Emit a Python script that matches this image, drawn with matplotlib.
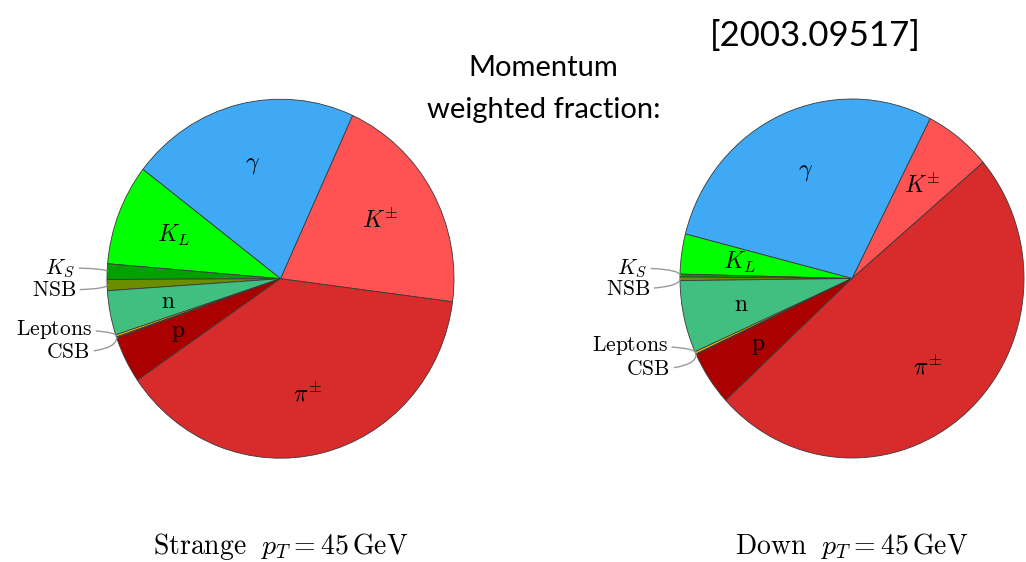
import numpy as np
import matplotlib
matplotlib.use("Agg")
import matplotlib.pyplot as plt

plt.rcParams["mathtext.fontset"] = "cm"

# Momentum-weighted fractions (%) of jet constituents, counter-clockwise order
species = ["K+-", "gamma", "K_L", "K_S", "NSB", "n", "Leptons", "CSB", "p", "pi+-"]
tex_labels = [r"$K^{\pm}$", r"$\gamma$", r"$K_L$", r"$K_S$", r"$\mathrm{NSB}$",
              r"$\mathrm{n}$", r"$\mathrm{Leptons}$", r"$\mathrm{CSB}$",
              r"$\mathrm{p}$", r"$\pi^{\pm}$"]
strange_frac = [20.25, 21.4, 9.1, 1.4, 1.0, 4.0, 0.2, 0.1, 4.2, 38.4]
down_frac = [6.3, 28.5, 3.6, 0.25, 0.33, 6.5, 0.22, 0.06, 4.9, 49.3]
outside = ["K_S", "NSB", "Leptons", "CSB"]

colors = ["#ff5252", "#3fa9f5", "#00ff00", "#00a000", "#6b8e00",
          "#40bf80", "#f2b400", "#b06000", "#aa0000", "#d82b2b"]

W, H = 1026, 562
fig = plt.figure(figsize=(W / 100, H / 100), dpi=100)


def draw_pie(values, cx, cy, rx, ry, start, text_pos, caption):
    ax = fig.add_axes([(cx - rx) / W, (H - cy - ry) / H, 2 * rx / W, 2 * ry / H])
    wedges, _ = ax.pie(values, colors=colors, startangle=start, counterclock=True,
                       radius=1.0, wedgeprops=dict(edgecolor="#3a3a3a", linewidth=0.6))
    for w in wedges:
        w.set_clip_on(False)
    ax.set_xlim(-1, 1)
    ax.set_ylim(-1, 1)
    ax.set_aspect("auto")
    ax.axis("off")
    for w, name, lab in zip(wedges, species, tex_labels):
        mid = np.deg2rad(0.5 * (w.theta1 + w.theta2))
        if name in outside:
            tx, ty = text_pos[name]
            ax.annotate(lab, xy=(np.cos(mid), np.sin(mid)), xytext=(tx, ty),
                        textcoords="data", ha="right", va="center", fontsize=15.5,
                        annotation_clip=False,
                        arrowprops=dict(arrowstyle="-", color="#9a9a9a", lw=1.0,
                                        shrinkA=1, shrinkB=0,
                                        connectionstyle="angle3,angleA=0,angleB=90"))
        else:
            r = 0.66
            ax.text(r * np.cos(mid), r * np.sin(mid), lab, ha="center", va="center",
                    fontsize=17)
    ax.text(0, -1.49, caption, ha="center", va="center", fontsize=20,
            transform=ax.transData, clip_on=False)
    return ax


draw_pie(strange_frac, 280.5, 278.7, 173.5, 179.5, -7.4,
         {"K_S": (-1.184, 0.06), "NSB": (-1.179, -0.063),
          "Leptons": (-1.086, -0.285), "CSB": (-1.098, -0.41)},
         r"$\mathrm{Strange}\ \ p_T = 45\,\mathrm{GeV}$")
draw_pie(down_frac, 852, 278.5, 172, 179.5, 40.3,
         {"K_S": (-1.192, 0.058), "NSB": (-1.174, -0.058),
          "Leptons": (-1.07, -0.376), "CSB": (-1.058, -0.505)},
         r"$\mathrm{Down}\ \ p_T = 45\,\mathrm{GeV}$")

fig.text(543.5 / W, 1 - 68 / H, "Momentum", ha="center", va="center",
         fontsize=21, family="Lato")
fig.text(543.5 / W, 1 - 110 / H, "weighted fraction:", ha="center", va="center",
         fontsize=21, family="Lato")
fig.text(815 / W, 1 - 36 / H, "[2003.09517]", ha="center", va="center",
         fontsize=25, family="Lato")

fig.savefig("out.png", dpi=100, facecolor="white")
